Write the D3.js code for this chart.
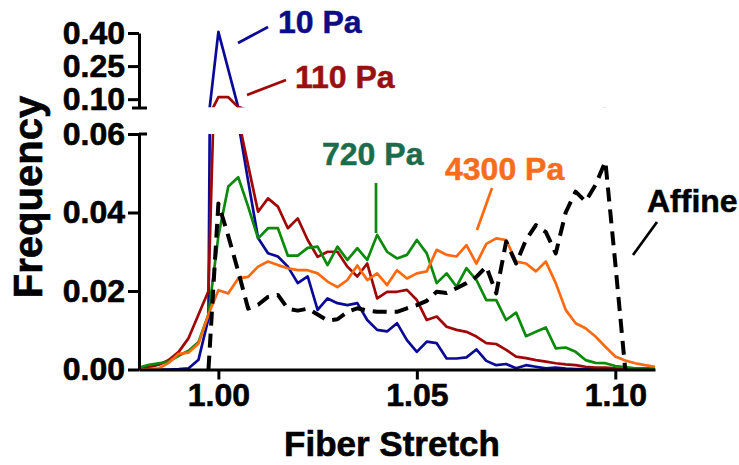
<!DOCTYPE html>
<html>
<head>
<meta charset="utf-8">
<script src="https://cdn.jsdelivr.net/npm/d3@7"></script>
<style>
  html, body { margin: 0; padding: 0; background: #ffffff; }
  svg { display: block; }
  text { font-family: "Liberation Sans", Arial, Helvetica, sans-serif; font-weight: bold; }
</style>
</head>
<body>
<svg id="chart" width="739" height="465"></svg>
<script>
// Fiber stretch bins (bin width 0.0025)
const stretch = [
  0.9800, 0.9825, 0.9850, 0.9875, 0.9900, 0.9925, 0.9950, 0.9975,
  1.0000, 1.0025, 1.0050, 1.0075, 1.0100, 1.0125, 1.0150, 1.0175,
  1.0200, 1.0225, 1.0250, 1.0275, 1.0300, 1.0325, 1.0350, 1.0375,
  1.0400, 1.0425, 1.0450, 1.0475, 1.0500, 1.0525, 1.0550, 1.0575,
  1.0600, 1.0625, 1.0650, 1.0675, 1.0700, 1.0725, 1.0750, 1.0775,
  1.0800, 1.0825, 1.0850, 1.0875, 1.0900, 1.0925, 1.0950, 1.0975,
  1.1000, 1.1025, 1.1050, 1.1075, 1.1100
];

// Frequency for each applied stress
const freq10 = [
  0.0000, 0.0000, 0.0000, 0.0000, 0.0001, 0.0003, 0.0025, 0.0130,
  0.4050, 0.2340, 0.0630, 0.0480, 0.0335, 0.0296, 0.0288, 0.0262,
  0.0220, 0.0237, 0.0152, 0.0181, 0.0169, 0.0164, 0.0169, 0.0126,
  0.0101, 0.0097, 0.0118, 0.0075, 0.0045, 0.0071, 0.0067, 0.0028,
  0.0028, 0.0031, 0.0051, 0.0022, 0.0011, 0.0014, 0.0003, 0.0011,
  0.0007, 0.0003, 0.0005, 0.0002, 0.0001, 0.0001, 0.0001, 0.0001,
  0.0001, 0.0001, 0.0001, 0.0001, 0.0001
];
const freq110 = [
  0.0003, 0.0006, 0.0012, 0.0024, 0.0045, 0.0080, 0.0140, 0.0200,
  0.1090, 0.1090, 0.0640, 0.0520, 0.0402, 0.0436, 0.0415, 0.0360,
  0.0385, 0.0330, 0.0287, 0.0300, 0.0300, 0.0262, 0.0237, 0.0270,
  0.0181, 0.0198, 0.0198, 0.0203, 0.0177, 0.0126, 0.0135, 0.0109,
  0.0101, 0.0096, 0.0084, 0.0067, 0.0065, 0.0050, 0.0033, 0.0029,
  0.0024, 0.0020, 0.0016, 0.0013, 0.0011, 0.0007, 0.0005, 0.0005,
  0.0003, 0.0002, 0.0002, 0.0002, 0.0002
];
const freq720 = [
  0.0005, 0.0012, 0.0016, 0.0020, 0.0035, 0.0048, 0.0070, 0.0140,
  0.0340, 0.0466, 0.0490, 0.0415, 0.0334, 0.0360, 0.0360, 0.0290,
  0.0290, 0.0310, 0.0313, 0.0266, 0.0313, 0.0279, 0.0309, 0.0279,
  0.0343, 0.0300, 0.0283, 0.0292, 0.0330, 0.0296, 0.0220, 0.0245,
  0.0211, 0.0258, 0.0228, 0.0177, 0.0177, 0.0126, 0.0145, 0.0085,
  0.0096, 0.0107, 0.0054, 0.0056, 0.0045, 0.0024, 0.0017, 0.0016,
  0.0009, 0.0006, 0.0003, 0.0002, 0.0002
];
const freq4300 = [
  0.0000, 0.0001, 0.0003, 0.0017, 0.0040, 0.0043, 0.0066, 0.0140,
  0.0202, 0.0194, 0.0232, 0.0236, 0.0262, 0.0275, 0.0266, 0.0258,
  0.0253, 0.0253, 0.0245, 0.0224, 0.0210, 0.0228, 0.0265, 0.0228,
  0.0245, 0.0215, 0.0253, 0.0232, 0.0245, 0.0250, 0.0305, 0.0292,
  0.0288, 0.0317, 0.0270, 0.0320, 0.0334, 0.0330, 0.0275, 0.0270,
  0.0250, 0.0275, 0.0220, 0.0152, 0.0118, 0.0105, 0.0084, 0.0058,
  0.0033, 0.0023, 0.0016, 0.0011, 0.0007
];
// Affine prediction (defined only between 0.9975 and 1.1025)
const freqAffine = [
  null,   null,   null,   null,   null,   null,   null,   0.0000,
  0.0423, 0.0340, 0.0250, 0.0155, 0.0165, 0.0185, 0.0190, 0.0155,
  0.0150, 0.0155, 0.0140, 0.0125, 0.0128, 0.0147, 0.0156, 0.0150,
  0.0147, 0.0147, 0.0147, 0.0156, 0.0164, 0.0175, 0.0198, 0.0195,
  0.0207, 0.0220, 0.0236, 0.0262, 0.0194, 0.0326, 0.0270, 0.0330,
  0.0368, 0.0350, 0.0296, 0.0400, 0.0453, 0.0428, 0.0470, 0.0530,
  0.0270, 0.0000, null,   null,   null
];

const xTicks = [1.00, 1.05, 1.10];
const yTicksLow = [0.00, 0.02, 0.04, 0.06];
const yTicksHigh = [0.10, 0.25, 0.40];

const series = [
  { name: "10 Pa",   values: freq10,     color: "#0a0a96", textColor: "#0c0c85", dash: null },
  { name: "110 Pa",  values: freq110,    color: "#a00808", textColor: "#9a1010", dash: null },
  { name: "720 Pa",  values: freq720,    color: "#0b8a0b", textColor: "#1c6c4c", dash: null },
  { name: "4300 Pa", values: freq4300,   color: "#ff6a10", textColor: "#f86d1c", dash: null },
  { name: "Affine",  values: freqAffine, color: "#000000", textColor: "#000000", dash: "14,8" }
];

const svg = d3.select("#chart");

// Shared x scale; the y axis is broken into a lower and an upper segment
const x = d3.scaleLinear().domain([0.98, 1.11]).range([139, 655]);
const yLow = d3.scaleLinear().domain([0, 0.06]).range([369.5, 134]);
const yHigh = d3.scaleLinear().domain([0.06, 0.40]).range([108, 33]);

const defs = svg.append("defs");
defs.append("clipPath").attr("id", "clipLow")
  .append("rect").attr("x", 139).attr("y", 134).attr("width", 530).attr("height", 240);
defs.append("clipPath").attr("id", "clipHigh")
  .append("rect").attr("x", 139).attr("y", 20).attr("width", 530).attr("height", 87.2);

function drawSegment(yScale, clipId) {
  const g = svg.append("g").attr("clip-path", `url(#${clipId})`);
  series.forEach(s => {
    const line = d3.line()
      .defined((d, i) => s.values[i] !== null)
      .x((d, i) => x(stretch[i]))
      .y((d, i) => yScale(s.values[i]));
    g.append("path")
      .datum(stretch)
      .attr("d", line)
      .attr("fill", "none")
      .attr("stroke", s.color)
      .attr("stroke-width", s.dash ? 4 : 2.7)
      .attr("stroke-dasharray", s.dash)
      .attr("stroke-linejoin", "round");
  });
}
drawSegment(yLow, "clipLow");
drawSegment(yHigh, "clipHigh");

// Axes
function styleAxis(g) {
  g.selectAll("path.domain").attr("stroke", "#000").attr("stroke-width", 3);
  g.selectAll(".tick line").attr("stroke", "#000").attr("stroke-width", 3);
  g.selectAll(".tick text").attr("fill", "#000").attr("font-size", 32)
    .attr("stroke", "#000").attr("stroke-width", 0.6)
    .attr("font-family", "'Liberation Sans', Arial, sans-serif").attr("font-weight", "bold");
}

const xAxis = svg.append("g").attr("transform", "translate(0,369.5)")
  .call(d3.axisBottom(x).tickValues(xTicks).tickFormat(d3.format(".2f"))
    .tickSize(10).tickSizeOuter(0).tickPadding(4));
styleAxis(xAxis);

const yAxisLow = svg.append("g").attr("transform", "translate(139,0)")
  .call(d3.axisLeft(yLow).tickValues(yTicksLow).tickFormat(d3.format(".2f"))
    .tickSize(11).tickSizeOuter(0).tickPadding(3));
styleAxis(yAxisLow);

const yAxisHigh = svg.append("g").attr("transform", "translate(139,0)")
  .call(d3.axisLeft(yHigh).tickValues(yTicksHigh).tickFormat(d3.format(".2f"))
    .tickSize(11).tickSizeOuter(0).tickPadding(3));
styleAxis(yAxisHigh);

// Caps marking the axis break
svg.append("line").attr("x1", 132).attr("x2", 147)
  .attr("y1", yHigh(0.06)).attr("y2", yHigh(0.06))
  .attr("stroke", "#000").attr("stroke-width", 3);
svg.append("line").attr("x1", 139).attr("x2", 147)
  .attr("y1", yLow(0.06)).attr("y2", yLow(0.06))
  .attr("stroke", "#000").attr("stroke-width", 3);

// Axis titles
svg.append("text")
  .attr("x", 392).attr("y", 456)
  .attr("text-anchor", "middle").attr("font-size", 35)
  .attr("stroke", "#000").attr("stroke-width", 0.6)
  .text("Fiber Stretch");
svg.append("text")
  .attr("transform", "translate(42,197) rotate(-90)")
  .attr("text-anchor", "middle").attr("font-size", 40)
  .attr("stroke", "#000").attr("stroke-width", 0.6)
  .text("Frequency");

// Series annotations with leader lines
const notes = [
  { name: "10 Pa",   tx: 278, ty: 33,  l: [238, 43, 268, 27] },
  { name: "110 Pa",  tx: 295, ty: 88,  l: [247, 95, 286, 80] },
  { name: "720 Pa",  tx: 322, ty: 165, l: [376, 183, 376, 233] },
  { name: "4300 Pa", tx: 445, ty: 180, l: [492, 188, 477, 230] },
  { name: "Affine",  tx: 647, ty: 212, l: [657, 222, 633, 255] }
];
notes.forEach(n => {
  const s = series.find(d => d.name === n.name);
  svg.append("text").attr("x", n.tx).attr("y", n.ty)
    .attr("font-size", 32).attr("fill", s.textColor)
    .attr("stroke", s.textColor).attr("stroke-width", 0.5)
    .attr("textLength", null)
    .text(n.name);
  svg.append("line")
    .attr("x1", n.l[0]).attr("y1", n.l[1]).attr("x2", n.l[2]).attr("y2", n.l[3])
    .attr("stroke", s.color).attr("stroke-width", 2.7);
});
</script>
</body>
</html>
